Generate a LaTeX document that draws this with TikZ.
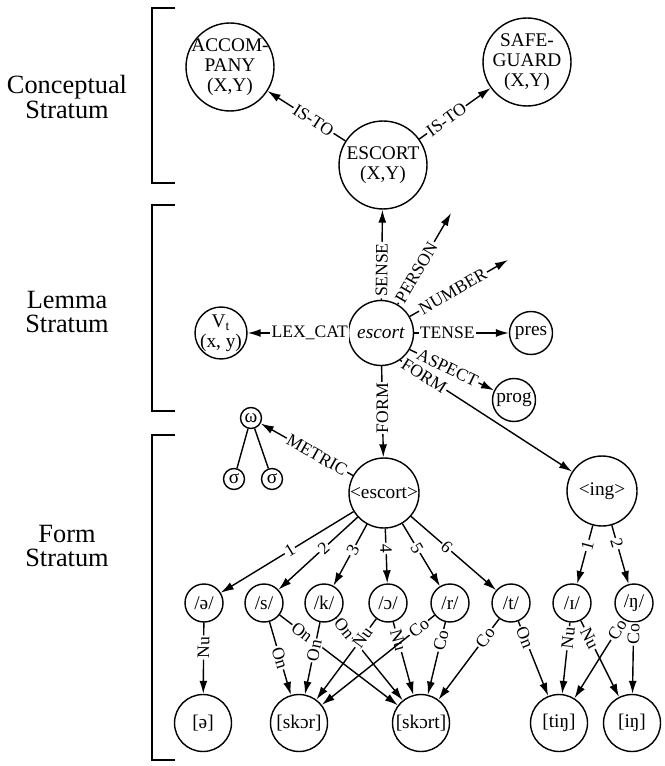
\documentclass[tikz,border=0pt]{standalone}
\usepackage{fontspec}
\setmainfont{Liberation Serif}
\usetikzlibrary{arrows.meta}

\begin{document}
\begin{tikzpicture}[
		x=0.02cm, y=-0.02cm,
		font=\fontsize{11}{11.4}\selectfont,
		circ/.style={draw, circle, line width=0.8pt, align=center, inner sep=0pt},
		concept/.style={circ, minimum size=1.76cm, inner sep=-3pt},
		lemma/.style={circ, minimum size=1.3cm},
		feat/.style={circ, minimum size=0.86cm, inner sep=-2pt},
		morph/.style={circ, minimum size=1.4cm},
		seg/.style={circ, minimum size=0.76cm},
		syl/.style={circ, minimum size=1.14cm},
		met/.style={circ, minimum size=0.42cm},
		stratum/.style={font=\fontsize{15}{14}\selectfont, align=center},
		bracket/.style={line width=0.8pt},
		arr/.style={-{Latex[length=2.6mm, width=1.6mm]}, line width=0.8pt},
		lbl/.style={fill=white, inner sep=0.8pt, sloped, font=\fontsize{10}{10}\selectfont}
		]
		\useasboundingbox (0,0) rectangle (664,766);
		\node[stratum] (cstr) at (67,97) {Conceptual\\Stratum};
		\node[stratum] (lstr) at (67,312) {Lemma\\Stratum};
		\node[stratum] (fstr) at (67,546) {Form\\Stratum};
		\draw[bracket] (175,8) -- (152,8) -- (152,183) -- (175,183);
		\draw[bracket] (175,205) -- (152,205) -- (152,411) -- (175,411);
		\draw[bracket] (175,435) -- (152,435) -- (152,760) -- (175,760);
		\node[concept] (accompany) at (230,67) {ACCOM-\\PANY\\(X,Y)};
		\node[concept] (safeguard) at (527,62) {SAFE-\\GUARD\\(X,Y)};
		\node[concept] (escortc) at (383,165) {ESCORT\\(X,Y)};
		\node[lemma] (escortl) at (381,333) {\textit{escort}};
		\node[feat, minimum size=1.04cm] (vt) at (221,333) {V\textsubscript{t}\\(x, y)};
		\node[feat] (pres) at (531,333) {pres};
		\node[feat] (prog) at (514,400) {prog};
		\coordinate (person) at (451,213);
		\coordinate (number) at (508,260);
		\node[morph] (mescort) at (384,493) {<escort>};
		\node[morph] (ming) at (602,491) {<ing>};
		\node[met] (omega) at (251,418) {ω};
		\node[met] (sigmaa) at (234,479) {σ};
		\node[met] (sigmab) at (272,479) {σ};
		\node[seg] (schwa) at (204,603) {/ə/};
		\node[seg] (s) at (264,603) {/s/};
		\node[seg] (k) at (324,603) {/k/};
		\node[seg] (o) at (388,603) {/ɔ/};
		\node[seg] (r) at (450,603) {/r/};
		\node[seg] (t) at (511,603) {/t/};
		\node[seg] (i) at (572,603) {/ɪ/};
		\node[seg] (ng) at (634,603) {/ŋ/};
		\node[syl] (sschwa) at (203,723) {[ə]};
		\node[syl] (skor) at (299,723) {[skɔr]};
		\node[syl] (skort) at (421,723) {[skɔrt]};
		\node[syl] (ting) at (559,723) {[tiŋ]};
		\node[syl] (ing) at (632,723) {[iŋ]};
		\draw[arr] (escortc) -- node[lbl, pos=0.41] {IS-TO} (accompany);
		\draw[arr] (escortc) -- node[lbl, pos=0.38] {IS-TO} (safeguard);
		\draw[arr] (escortl) -- node[lbl, pos=0.33] {SENSE} (escortc);
		\draw[arr] (escortl) -- node[lbl, pos=0.35] {PERSON} (person);
		\draw[arr] (escortl) -- node[lbl, pos=0.44] {NUMBER} (number);
		\draw[arr] (escortl) -- node[lbl, pos=0.35] {TENSE} (pres);
		\draw[arr] (escortl) -- node[lbl, pos=0.38] {LEX\_CAT} (vt);
		\draw[arr] (escortl.-30) -- node[lbl, pos=0.45] {ASPECT} (prog);
		\draw[arr] (escortl.-55) -- node[lbl, pos=0.14] {FORM} (ming);
		\draw[arr] (escortl) -- node[lbl, sloped=false, rotate=90, pos=0.46] {FORM} (mescort);
		\draw[arr] (mescort) -- node[lbl, pos=0.39] {METRIC} (omega);
		\draw[line width=0.8pt] (omega) -- (sigmaa);
		\draw[line width=0.8pt] (omega) -- (sigmab);
		\draw[arr] (mescort) -- node[lbl, pos=0.48] {1} (schwa);
		\draw[arr] (mescort) -- node[lbl, pos=0.43] {2} (s);
		\draw[arr] (mescort) -- node[lbl, pos=0.42] {3} (k);
		\draw[arr] (mescort) -- node[lbl, pos=0.36] {4} (o);
		\draw[arr] (mescort) -- node[lbl, pos=0.39] {5} (r);
		\draw[arr] (mescort) -- node[lbl, pos=0.42] {6} (t);
		\draw[arr] (ming) -- node[lbl, pos=0.34] {1} (i);
		\draw[arr] (ming) -- node[lbl, pos=0.31] {2} (ng);
		\draw[arr] (schwa) -- node[lbl, pos=0.35] {Nu} (sschwa);
		\draw[arr] (s) -- node[lbl, pos=0.49] {On} (skor);
		\draw[arr] (s) -- node[lbl, pos=0.19] {On} (skort);
		\draw[arr] (k) -- node[lbl, pos=0.39] {On} (skor);
		\draw[arr] (k) -- node[lbl, pos=0.12] {On} (skort);
		\draw[arr] (o) -- node[lbl, pos=0.23] {Nu} (skor);
		\draw[arr] (o) -- node[lbl, pos=0.25] {Nu} (skort);
		\draw[arr] (r) -- node[lbl, pos=0.14] {Co} (skor);
		\draw[arr] (r) -- node[lbl, pos=0.25] {Co} (skort);
		\draw[arr] (t) -- node[lbl, pos=0.23] {Co} (skort);
		\draw[arr] (t) -- node[lbl, pos=0.22] {On} (ting);
		\draw[arr] (i) -- node[lbl, pos=0.22] {Nu} (ting);
		\draw[arr] (i) -- node[lbl, pos=0.23] {Nu} (ing);
		\draw[arr] (ng) -- node[lbl, pos=0.13] {Co} (ting);
		\draw[arr] (ng) -- node[lbl, pos=0.16] {Co} (ing);
	\end{tikzpicture}
\end{document}
